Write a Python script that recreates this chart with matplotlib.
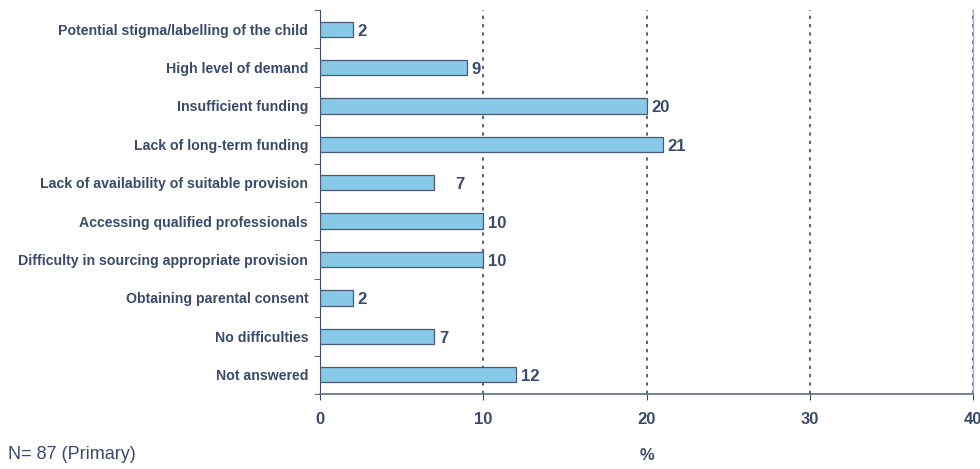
import matplotlib
matplotlib.use("Agg")
from matplotlib import pyplot as plt
import numpy as np

categories = [
    "Potential stigma/labelling of the child",
    "High level of demand",
    "Insufficient funding",
    "Lack of long-term funding",
    "Lack of availability of suitable provision",
    "Accessing qualified professionals",
    "Difficulty in sourcing appropriate provision",
    "Obtaining parental consent",
    "No difficulties",
    "Not answered",
]
values = [2, 9, 20, 21, 7, 10, 10, 2, 7, 12]
x_ticks = [0, 10, 20, 30, 40]

navy = "#3b4a6b"
bar_fill = "#87c9e6"

plt.rcParams["font.family"] = ["Liberation Sans", "DejaVu Sans"]

fig = plt.figure(figsize=(9.8, 4.69), dpi=100)
ax = fig.add_axes([0.3265, 0.16, 0.6664, 0.8187])

pos = np.arange(len(categories))
ax.barh(pos, values, height=0.4, color=bar_fill, edgecolor="#4a5878", linewidth=0.9, zorder=3)

# value labels sit just past the bar end; one label is pushed a bit further out
label_gap = {4: 1.0}
for i, (p, v) in enumerate(zip(pos, values)):
    ax.text(v + 0.3 + label_gap.get(i, 0), p + 0.05, str(v), va="center", ha="left",
            fontsize=12, fontweight="bold", color=navy, zorder=4)

ax.set_ylim(len(categories) - 0.5, -0.5)
ax.set_xlim(0, 40)

ax.set_yticks(pos)
ax.set_yticklabels(categories, fontsize=10.2, fontweight="bold", color=navy)
ax.tick_params(axis="y", which="major", length=0, pad=8.5)
ax.set_yticks(np.arange(len(categories) + 1) - 0.5, minor=True)
ax.tick_params(axis="y", which="minor", length=4, color=navy, direction="out")

ax.set_xticks(x_ticks)
ax.set_xticklabels([str(t) for t in x_ticks], fontsize=12, fontweight="bold", color=navy)
ax.tick_params(axis="x", length=4, color=navy, direction="out", pad=9)

for t in x_ticks[1:]:
    ax.axvline(t, color=navy, linestyle=(0, (2, 3)), linewidth=1.2, zorder=2)

ax.spines["top"].set_visible(False)
ax.spines["right"].set_color("#a3abbd")
ax.spines["right"].set_linewidth(1.0)
ax.spines["left"].set_color(navy)
ax.spines["bottom"].set_color("#5d6a88")
ax.spines["bottom"].set_linewidth(1.2)

ax.set_xlabel("%", fontsize=12, fontweight="bold", color=navy, labelpad=15)
fig.text(0.008, 0.012, "N= 87 (Primary)", fontsize=13, color=navy, ha="left", va="bottom")

fig.savefig("out.png", dpi=100)
